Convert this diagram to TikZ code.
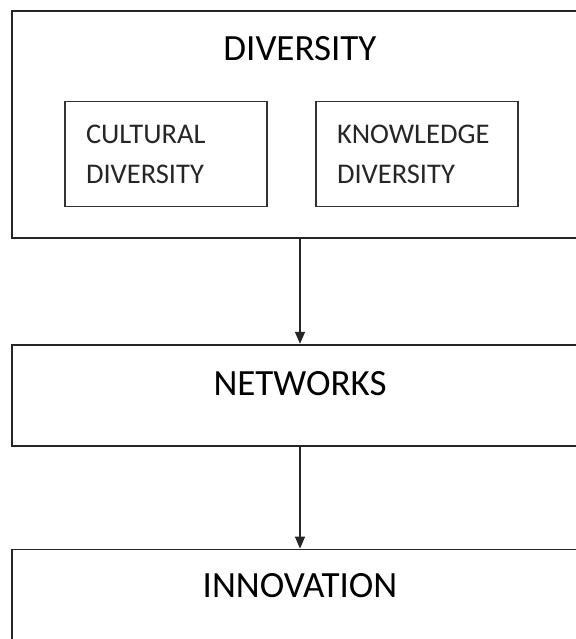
\documentclass[tikz,border=0pt]{standalone}
\usepackage{fontspec}
\setmainfont{Carlito}
\usetikzlibrary{arrows.meta,positioning}
\tikzstyle{stage}=[
	rectangle,
	line width=1.8pt,
	draw=black!85,
	minimum width=576pt,
	inner sep=0pt
]
\tikzstyle{factor}=[
	rectangle,
	line width=1.5pt,
	draw=black!80,
	minimum width=202pt,
	minimum height=105pt,
	text width=160pt,
	inner xsep=21pt,
	align=left,
	text=black!85,
	font=\fontsize{28.5}{40}\selectfont
]
\tikzstyle{title}=[
	inner sep=0pt,
	text=black,
	font=\fontsize{37}{40}\selectfont
]
\tikzstyle{flow}=[
	-{Triangle[length=12pt,width=10pt]},
	line width=1.3pt,
	draw=black!85
]

\begin{document}
\begin{tikzpicture}
\useasboundingbox (0,0) rectangle (575pt,-639pt);
\node [stage, minimum height=227pt, anchor=north] (diversity) at (300pt,-10pt) {};
\node [title] (diversitytitle)[below=26pt of diversity.north] {DIVERSITY};
\node [factor] (cultural) at (166pt,-154pt) {CULTURAL\\DIVERSITY};
\node [factor] (knowledge) at (417pt,-154pt) {KNOWLEDGE\\DIVERSITY};
\node [stage, minimum height=101pt] (networks)[below=105pt of diversity] {};
\node [title] (networkstitle)[below=27pt of networks.north] {NETWORKS};
\node [stage, minimum height=130pt] (innovation)[below=102pt of networks] {};
\node [title] (innovationtitle)[below=25pt of innovation.north] {INNOVATION};
\draw [flow] (diversity) -- (networks);
\draw [flow] (networks) -- (innovation);
\end{tikzpicture}
\end{document}
